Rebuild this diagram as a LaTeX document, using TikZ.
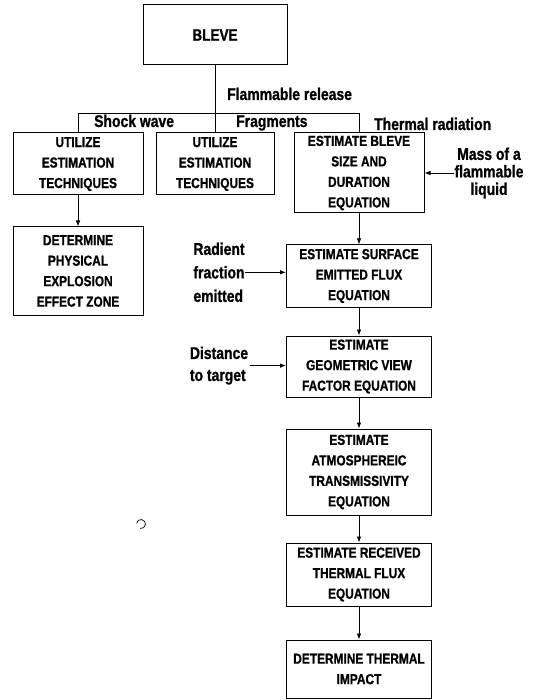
\documentclass[tikz,border=0pt]{standalone}
\usepackage{fontspec}
\setmainfont{Liberation Sans}[FakeStretch=0.82, BoldFeatures={FakeBold=1}]
\usetikzlibrary{arrows.meta,calc}
\begin{document}
\begin{tikzpicture}[x=1pt,y=-1pt,
  box/.style={draw, line width=1pt, align=center, inner sep=0pt,
    font=\bfseries\fontsize{14.5}{20.5}\selectfont},
  lab/.style={inner sep=0pt, font=\bfseries\fontsize{17}{22}\selectfont},
  link/.style={line width=0.8pt},
  arr/.style={line width=0.8pt, -{Latex[length=6pt,width=4.5pt]}}]
\useasboundingbox (0,0) rectangle (535,700);

% boxes
\node[box, minimum width=144pt, minimum height=60pt,
  font=\bfseries\fontsize{16.5}{20}\selectfont] (bleve) at (215,35) {BLEVE};
\node[box, minimum width=130pt, minimum height=62pt] (u1) at (78,164)
  {UTILIZE\\ESTIMATION\\TECHNIQUES};
\node[box, minimum width=118pt, minimum height=62pt] (u2) at (215,164)
  {UTILIZE\\ESTIMATION\\TECHNIQUES};
\node[box, minimum width=130pt, minimum height=80pt] (e1) at (359,173)
  {ESTIMATE BLEVE\\SIZE AND\\DURATION\\EQUATION};
\node[box, minimum width=130pt, minimum height=88pt] (det) at (78,271)
  {DETERMINE\\PHYSICAL\\EXPLOSION\\EFFECT ZONE};
\node[box, minimum width=145pt, minimum height=62pt] (surf) at (359,276)
  {ESTIMATE SURFACE\\EMITTED FLUX\\EQUATION};
\node[box, minimum width=145pt, minimum height=61pt] (geo) at (359,366.5)
  {ESTIMATE\\GEOMETRIC VIEW\\FACTOR EQUATION};
\node[box, minimum width=145pt, minimum height=86pt] (atm) at (359,472)
  {ESTIMATE\\ATMOSPHEREIC\\TRANSMISSIVITY\\EQUATION};
\node[box, minimum width=145pt, minimum height=63pt] (rec) at (359,574.5)
  {ESTIMATE RECEIVED\\THERMAL FLUX\\EQUATION};
\node[box, minimum width=145pt, minimum height=58pt] (imp) at (359,669)
  {DETERMINE THERMAL\\IMPACT};

% labels
\node[lab, anchor=base west] (fr) at (227,100) {Flammable release};
\node[lab, anchor=base west] (sw) at (94,127) {Shock wave};
\node[lab, anchor=base west] (fg) at (236,127) {Fragments};
\node[lab, anchor=base west] (tr) at (374,130) {Thermal radiation};
\node[lab, align=center, font=\bfseries\fontsize{17}{17.5}\selectfont]
  (mass) at (489,173) {Mass of a\\flammable\\liquid};
\node[lab, align=left, font=\bfseries\fontsize{17}{23.5}\selectfont]
  (rad) at (219,272.3) {Radient\\fraction\\emitted};
\node[lab, align=left] (dist) at (219,365.6) {Distance\\to target};

% tree connectors
\coordinate (j) at (215,113);
\coordinate (jl) at (78,113);
\coordinate (jr) at (359,113);
\draw[link] (bleve.south) -- (j);
\draw[link] (jl) -- (jr);
\draw[link] (jl) -- (u1.north);
\draw[link] (j) -- (u2.north);
\draw[link] (jr) -- (e1.north);

% arrows
\draw[arr] (u1) -- (det);
\draw[arr] (e1) -- (surf);
\draw[arr] (surf) -- (geo);
\draw[arr] (geo) -- (atm);
\draw[arr] (atm) -- (rec);
\draw[arr] (rec) -- (imp);
\draw[arr] (mass.west) -- (mass.west -| e1.east);
\draw[arr] (rad.east) -- (rad.east -| surf.west);
\draw[arr] ([xshift=2pt]dist.east) -- (dist.east -| geo.west);

% small scan mark
\draw[line width=0.7pt] ($(141,524)+(-170:4.5)$) arc[start angle=-170, end angle=100, radius=4.5];
\end{tikzpicture}
\end{document}
